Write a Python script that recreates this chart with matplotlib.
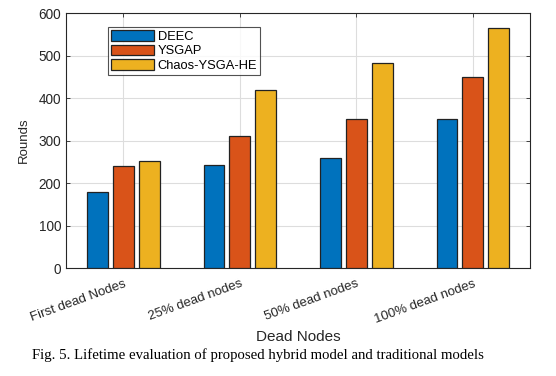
import numpy as np
import matplotlib.pyplot as plt

plt.rcParams['font.family'] = ['Liberation Sans', 'DejaVu Sans']

# data
groups = ['First dead Nodes', '25% dead nodes', '50% dead nodes', '100% dead nodes']
series = ['DEEC', 'YSGAP', 'Chaos-YSGA-HE']
deec = [180, 242, 260, 350]
ysgap = [240, 310, 350, 450]
chaos = [252, 418, 483, 565]
colors = ['#0072BD', '#D95319', '#EDB120']

fig = plt.figure(figsize=(5.56, 3.76), dpi=100)
ax = fig.add_axes([0.119, 0.287, 0.834, 0.678])

# matlab style grouped bars
x = np.arange(1, len(groups) + 1)
step = 2.0 / 9
width = step * 0.8
for i, (vals, name) in enumerate(zip([deec, ysgap, chaos], series)):
    ax.bar(x + (i - 1) * step, vals, width, color=colors[i], edgecolor='#222222',
           linewidth=0.9, label=name, zorder=3)

ax.set_xlim(0.51, 4.49)
ax.set_ylim(0, 600)
ax.set_yticks(np.arange(0, 601, 100))
ax.set_xticks(x)
ax.set_xticklabels(groups, rotation=20, ha='right', rotation_mode='anchor', fontsize=9.5,
                   color='#262626')
ax.tick_params(axis='y', labelsize=9.8, labelcolor='#262626')
ax.tick_params(axis='x', pad=7)
ax.tick_params(direction='in', top=True, right=True, length=3, width=0.6, color='#262626')
ax.grid(True, color='#dddddd', linewidth=0.8, zorder=0)
ax.set_axisbelow(True)
for s in ax.spines.values():
    s.set_color('#262626')
    s.set_linewidth(0.8)

ax.set_ylabel('Rounds', fontsize=9.5, color='#262626', labelpad=6)
ax.set_xlabel('Dead Nodes', fontsize=11, color='#262626', labelpad=3)

leg = ax.legend(loc='upper left', bbox_to_anchor=(0.09, 0.945), fontsize=9.3,
                frameon=True, fancybox=False, edgecolor='#262626',
                handlelength=3.3, handleheight=0.85, borderpad=0.25,
                labelspacing=0.14, handletextpad=0.3, borderaxespad=0)
leg.get_frame().set_linewidth(0.8)

fig.text(0.464, 0.056, 'Fig. 5. Lifetime evaluation of proposed hybrid model and traditional models',
         ha='center', va='center', fontsize=10.6, family='Liberation Serif')

fig.savefig('out.png', dpi=100)
